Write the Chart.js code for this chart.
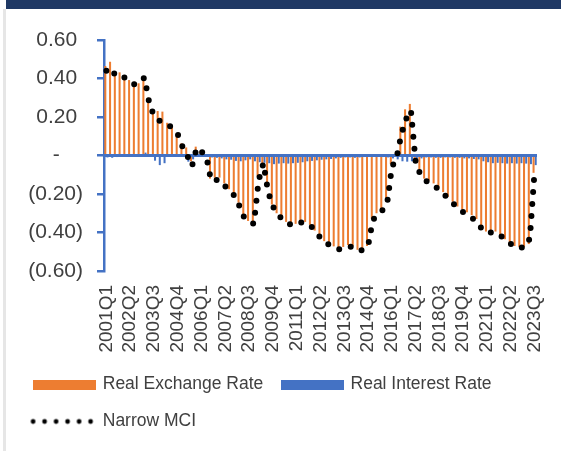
<!DOCTYPE html>
<html>
<head>
<meta charset="utf-8">
<script src="https://cdn.jsdelivr.net/npm/chart.js@4/dist/chart.umd.min.js"></script>
<style>
  html, body { margin: 0; padding: 0; background: #fff; }
  #wrap { position: relative; width: 561px; height: 451px; overflow: hidden; }
  #band { position: absolute; left: 6px; top: 0; width: 555px; height: 9px; background: #1F3864; }
  #edge { position: absolute; left: 3px; top: 9px; width: 3px; bottom: 0; background: #e6e6e6; }
  canvas { position: absolute; left: 0; top: 0; }
</style>
</head>
<body>
<div id="wrap">
  <canvas id="mci" width="561" height="451"></canvas>
  <div id="band"></div>
  <div id="edge"></div>
</div>
<script>
// Quarterly categories, 2001Q1 - 2023Q3
const quarters = [
  '2001Q1','2001Q2','2001Q3','2001Q4',
  '2002Q1','2002Q2','2002Q3','2002Q4',
  '2003Q1','2003Q2','2003Q3','2003Q4',
  '2004Q1','2004Q2','2004Q3','2004Q4',
  '2005Q1','2005Q2','2005Q3','2005Q4',
  '2006Q1','2006Q2','2006Q3','2006Q4',
  '2007Q1','2007Q2','2007Q3','2007Q4',
  '2008Q1','2008Q2','2008Q3','2008Q4',
  '2009Q1','2009Q2','2009Q3','2009Q4',
  '2010Q1','2010Q2','2010Q3','2010Q4',
  '2011Q1','2011Q2','2011Q3','2011Q4',
  '2012Q1','2012Q2','2012Q3','2012Q4',
  '2013Q1','2013Q2','2013Q3','2013Q4',
  '2014Q1','2014Q2','2014Q3','2014Q4',
  '2015Q1','2015Q2','2015Q3','2015Q4',
  '2016Q1','2016Q2','2016Q3','2016Q4',
  '2017Q1','2017Q2','2017Q3','2017Q4',
  '2018Q1','2018Q2','2018Q3','2018Q4',
  '2019Q1','2019Q2','2019Q3','2019Q4',
  '2020Q1','2020Q2','2020Q3','2020Q4',
  '2021Q1','2021Q2','2021Q3','2021Q4',
  '2022Q1','2022Q2','2022Q3','2022Q4',
  '2023Q1','2023Q2','2023Q3'
];

// Quarters that carry a visible axis label
const tickLabels = ['2001Q1','2002Q2','2003Q3','2004Q4','2006Q1','2007Q2','2008Q3','2009Q4',
  '2011Q1','2012Q2','2013Q3','2014Q4','2016Q1','2017Q2','2018Q3','2019Q4','2021Q1','2022Q2','2023Q3'];

// Value axis range and step
const yMin = -0.6, yMax = 0.6, yStep = 0.2;

const realExchangeRate = [
  0.465, 0.487, 0.423, 0.432, 0.41, 0.392, 0.383, 0.375, 0.41, 0.30, 0.22,
  0.231, 0.228, 0.17, 0.15, 0.10, 0.063, 0.042, -0.03, 0.046, 0.025, -0.005,
  -0.12, -0.115, -0.115, -0.145, -0.175, -0.195, -0.245, -0.31, -0.34, -0.36, -0.11, -0.04, -0.16,
  -0.255, -0.30, -0.325, -0.345, -0.36, -0.355, -0.345, -0.345, -0.36, -0.39, -0.42,
  -0.445, -0.46, -0.472, -0.48, -0.475, -0.465, -0.472, -0.49, -0.49, -0.47,
  -0.33, -0.30, -0.275, -0.24, -0.045, 0.01, 0.15, 0.24, 0.268, -0.02,
  -0.09, -0.12, -0.13, -0.145, -0.17, -0.19, -0.215, -0.24, -0.265, -0.28, -0.295, -0.31, -0.33,
  -0.38, -0.395, -0.395, -0.395, -0.415, -0.435, -0.455, -0.47, -0.475, -0.475, -0.46, -0.09
];

const realInterestRate = [
  -0.010, -0.012, -0.008, -0.004, -0.004, 0.000, 0.003, 0.000, 0.015, -0.004, -0.027,
  -0.050, -0.040, -0.006, -0.004, -0.003, -0.008, -0.032, -0.020, -0.006, -0.004, -0.006,
  -0.010, -0.012, -0.015, -0.020, -0.022, -0.028, -0.030, -0.025, -0.020, -0.030, -0.035, -0.038, -0.040,
  -0.045, -0.042, -0.040, -0.042, -0.040, -0.038, -0.035, -0.030, -0.028, -0.025, -0.022,
  -0.020, -0.018, -0.015, -0.012, -0.010, -0.010, -0.012, -0.010, -0.008, -0.006,
  -0.005, -0.006, -0.008, -0.010, -0.015, -0.020, -0.030, -0.032, -0.030, -0.028,
  -0.015, -0.010, -0.010, -0.012, -0.012, -0.010, -0.010, -0.012, -0.012, -0.015, -0.015, -0.018, -0.020,
  -0.030, -0.035, -0.040, -0.038, -0.040, -0.042, -0.040, -0.042, -0.040, -0.042, -0.045, -0.050
];

const narrowMci = [
  0.44, 0.455, 0.41, 0.408, 0.405, 0.385, 0.368, 0.38, 0.405, 0.275, 0.205,
  0.183, 0.172, 0.16, 0.14, 0.11, 0.045, 0.0, -0.055, 0.04, 0.02, -0.005,
  -0.13, -0.128, -0.127, -0.16, -0.19, -0.21, -0.265, -0.325, -0.345, -0.355, -0.13, -0.04, -0.19,
  -0.265, -0.305, -0.333, -0.35, -0.363, -0.358, -0.348, -0.35, -0.367, -0.395, -0.428,
  -0.45, -0.468, -0.478, -0.487, -0.48, -0.472, -0.478, -0.495, -0.49, -0.47,
  -0.335, -0.31, -0.285, -0.25, -0.06, -0.01, 0.11, 0.19, 0.235, -0.035,
  -0.10, -0.13, -0.142, -0.158, -0.18, -0.203, -0.228, -0.252, -0.278, -0.295, -0.308, -0.327, -0.35,
  -0.385, -0.402, -0.40, -0.402, -0.42, -0.44, -0.46, -0.478, -0.478, -0.478, -0.43, -0.08
];

const ORANGE = '#ED7D31';
const BLUE = '#4472C4';
const INK = '#404040';
const FONT = "'Liberation Sans', Arial, sans-serif";

// Legend swatches
function rectSwatch(color) {
  const c = document.createElement('canvas');
  c.width = 63; c.height = 10;
  const g = c.getContext('2d');
  g.fillStyle = color;
  g.fillRect(0, 0, 63, 10);
  return c;
}
function dotSwatch() {
  const c = document.createElement('canvas');
  c.width = 70; c.height = 8;
  const g = c.getContext('2d');
  g.fillStyle = '#000';
  for (let k = 0; k < 6; k++) {
    g.beginPath();
    g.arc(3.6 + k * 11.5, 4, 2.4, 0, Math.PI * 2);
    g.fill();
  }
  return c;
}
const swatches = [rectSwatch(ORANGE), rectSwatch(BLUE), dotSwatch()];

// Horizontal axis line at zero, above the bars and below the MCI line
const zeroLine = {
  id: 'zeroLine',
  beforeDatasetDraw(chart, args) {
    if (args.meta.type !== 'line') return;
    const { ctx, chartArea } = chart;
    const y = chart.scales.y.getPixelForValue(0);
    ctx.save();
    ctx.strokeStyle = BLUE;
    ctx.lineWidth = 3;
    ctx.beginPath();
    ctx.moveTo(chartArea.left - 1, y);
    ctx.lineTo(chartArea.right, y);
    ctx.stroke();
    ctx.restore();
  }
};

function fmtTick(v) {
  if (Math.abs(v) < 1e-9) return '-    ';
  if (v < 0) return '(' + Math.abs(v).toFixed(2) + ')';
  return v.toFixed(2) + ' ';
}

new Chart(document.getElementById('mci'), {
  data: {
    labels: quarters,
    datasets: [
      {
        type: 'bar', label: 'Real Exchange Rate', data: realExchangeRate,
        backgroundColor: ORANGE, borderWidth: 0, order: 1,
        categoryPercentage: 0.9, barPercentage: 0.95
      },
      {
        type: 'bar', label: 'Real Interest Rate', data: realInterestRate,
        backgroundColor: BLUE, borderWidth: 0, order: 1,
        categoryPercentage: 0.9, barPercentage: 0.95
      },
      {
        type: 'line', label: 'Narrow MCI', data: narrowMci,
        borderColor: '#000', borderWidth: 6, borderDash: [0, 12],
        borderCapStyle: 'round', borderJoinStyle: 'round',
        pointRadius: 0, tension: 0, fill: false, order: 0
      }
    ]
  },
  options: {
    responsive: false,
    animation: false,
    layout: { padding: { left: 15.5, right: 24, top: 40, bottom: 10.75 } },
    plugins: {
      title: { display: false },
      tooltip: { enabled: false },
      legend: {
        position: 'bottom',
        align: 'start',
        labels: {
          color: INK,
          font: { family: FONT, size: 17.5 },
          usePointStyle: true,
          pointStyleWidth: 59,
          boxHeight: 10,
          padding: 19.5,
          generateLabels(chart) {
            return chart.data.datasets.map((ds, i) => ({
              text: ds.label,
              pointStyle: swatches[i],
              fillStyle: 'transparent',
              strokeStyle: 'transparent',
              lineWidth: 0,
              fontColor: INK,
              hidden: false,
              datasetIndex: i
            }));
          }
        }
      }
    },
    scales: {
      x: {
        type: 'category',
        offset: true,
        grid: { display: false, drawTicks: false, tickLength: 0 },
        border: { display: false },
        ticks: {
          autoSkip: false,
          minRotation: 90,
          maxRotation: 90,
          padding: 14,
          color: INK,
          font: { family: FONT, size: 19 },
          callback(value, index) {
            const q = quarters[index];
            return tickLabels.includes(q) ? q : '';
          }
        },
        afterFit(scale) {
          scale.height = 85.25;
          scale.paddingLeft = 0;
          scale.paddingRight = 0;
        }
      },
      y: {
        min: yMin,
        max: yMax,
        grid: {
          drawOnChartArea: false,
          drawTicks: true,
          tickLength: 7,
          color: BLUE,
          lineWidth: 2.5
        },
        border: { display: true, color: BLUE, width: 2.5 },
        ticks: {
          stepSize: yStep,
          padding: 14,
          color: INK,
          font: { family: FONT, size: 21 },
          callback: fmtTick
        },
        afterFit(scale) { scale.width = 88.5; }
      }
    }
  },
  plugins: [zeroLine]
});
</script>
</body>
</html>
